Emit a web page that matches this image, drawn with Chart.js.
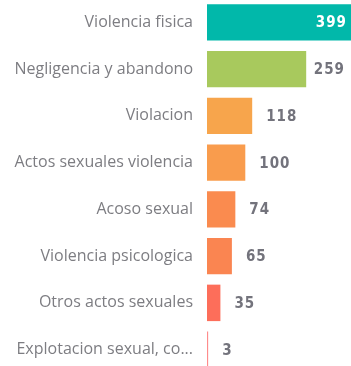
<!DOCTYPE html>
<html>
<head>
<meta charset="utf-8">
<script src="https://cdn.jsdelivr.net/npm/chart.js@4/dist/chart.umd.min.js"></script>
<style>
  html, body { margin: 0; padding: 0; background: #fff; overflow: hidden; width: 351px; height: 366px; }
  #wrap { position: absolute; left: 0; top: -1px; width: 351px; height: 374px; }
</style>
</head>
<body>
<div id="wrap"><canvas id="chart"></canvas></div>
<script>
// Case types and their counts
const categories = [
  'Violencia fisica',
  'Negligencia y abandono',
  'Violacion',
  'Actos sexuales violencia',
  'Acoso sexual',
  'Violencia psicologica',
  'Otros actos sexuales',
  'Explotacion sexual, co...'
];
const counts = [399, 259, 118, 100, 74, 65, 35, 3];

// One fill per bar
const barColors = ['#01B8AA', '#A8C95D', '#F7A54C', '#F99C4D', '#FA8B4F', '#FA8551', '#FD6E5A', '#FE8C8C'];

// Value labels: outside the bar end, or inside it when there is no room
const valueLabels = {
  id: 'valueLabels',
  afterDatasetsDraw(chart) {
    const { ctx, chartArea } = chart;
    const meta = chart.getDatasetMeta(0);
    ctx.save();
    ctx.font = 'bold 15px "DejaVu Sans Condensed", "DejaVu Sans", sans-serif';
    if ('letterSpacing' in ctx) ctx.letterSpacing = '1px';
    ctx.textBaseline = 'middle';
    meta.data.forEach((bar, i) => {
      const txt = String(counts[i]);
      const w = ctx.measureText(txt).width;
      const end = bar.x;
      if (end > chartArea.right - 20) {
        ctx.fillStyle = '#ffffff';
        ctx.textAlign = 'right';
        ctx.fillText(txt, Math.min(end, chartArea.right) - 4, bar.y + 1);
      } else {
        ctx.fillStyle = '#73737c';
        ctx.textAlign = 'left';
        const x = Math.min(end + 14, chartArea.right - 6 - w);
        ctx.fillText(txt, x, bar.y + 1);
      }
    });
    ctx.restore();
  }
};

new Chart(document.getElementById('chart'), {
  type: 'bar',
  data: {
    labels: categories,
    datasets: [{
      data: counts,
      backgroundColor: barColors,
      borderWidth: 0,
      categoryPercentage: 1,
      barPercentage: 0.78
    }]
  },
  options: {
    indexAxis: 'y',
    responsive: true,
    maintainAspectRatio: false,
    animation: false,
    layout: { padding: 0 },
    plugins: {
      legend: { display: false },
      tooltip: { enabled: false }
    },
    scales: {
      x: {
        display: false,
        min: 0,
        max: 376
      },
      y: {
        grid: { display: false, drawTicks: false },
        border: { display: false },
        afterFit(scale) {
          scale.width = 207;
          scale.paddingTop = 0;
          scale.paddingBottom = 0;
        },
        ticks: {
          padding: 14,
          color: '#7d7d82',
          font: { family: '"Open Sans", "Noto Sans", sans-serif', size: 16 }
        }
      }
    }
  },
  plugins: [valueLabels]
});
</script>
</body>
</html>
